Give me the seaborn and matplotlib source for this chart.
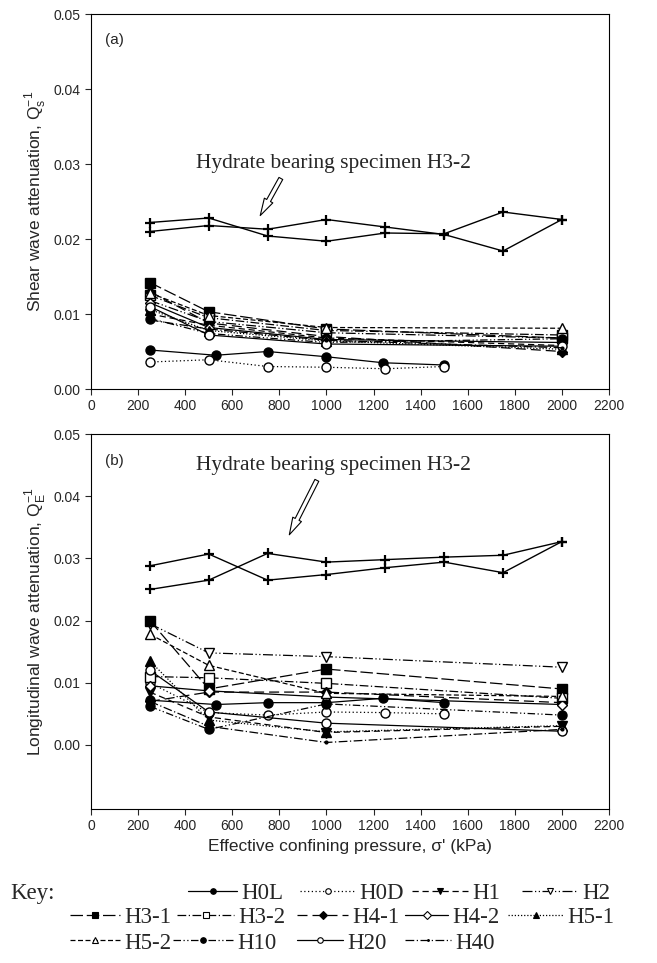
import pandas as pd
import seaborn as sns
import matplotlib.pyplot as plt
from matplotlib.lines import Line2D

# Confining pressures (kPa)
p_std = [250, 500, 1000, 2000]
p_h0l = [250, 530, 750, 1000, 1240, 1500]
p_h0d = [250, 500, 750, 1000, 1250, 1500]
p_hyd = [250, 500, 750, 1000, 1250, 1500, 1750, 2000]

# Shear wave attenuation, Qs^-1
qs_h0l = [0.0052, 0.0045, 0.0050, 0.0043, 0.0035, 0.0032]
qs_h0d = [0.0036, 0.0039, 0.0030, 0.0029, 0.0027, 0.0030]
qs_h1 = [0.0100, 0.0085, 0.0068, 0.0058]
qs_h2 = [0.0118, 0.0090, 0.0075, 0.0068]
qs_h31 = [0.0142, 0.0103, 0.0080, 0.0068]
qs_h32 = [0.0125, 0.0095, 0.0078, 0.0072]
qs_h41 = [0.0130, 0.0088, 0.0070, 0.0050]
qs_h42 = [0.0115, 0.0082, 0.0066, 0.0062]
qs_h51 = [0.0106, 0.0078, 0.0064, 0.0053]
qs_h52 = [0.0128, 0.0098, 0.0082, 0.0081]
qs_h10 = [0.0094, 0.0074, 0.0062, 0.0067]
qs_h20 = [0.0110, 0.0072, 0.0060, 0.0057]
qs_h40 = [0.0092, 0.0080, 0.0065, 0.0055]
qs_hyd_a = [0.0210, 0.0218, 0.0213, 0.0226, 0.0216, 0.0206, 0.0184, 0.0226]
qs_hyd_b = [0.0222, 0.0228, 0.0204, 0.0197, 0.0208, 0.0207, 0.0236, 0.0226]

# Longitudinal wave attenuation, QE^-1
qe_h0l = [0.0072, 0.0065, 0.0068, 0.0068, 0.0075, 0.0068]
qe_h0d = [0.0100, 0.0052, 0.0048, 0.0053, 0.0052, 0.0050]
qe_h1 = [0.0085, 0.0045, 0.0020, 0.0030]
qe_h2 = [0.0195, 0.0148, 0.0142, 0.0125]
qe_h31 = [0.0200, 0.0090, 0.0122, 0.0090]
qe_h32 = [0.0110, 0.0108, 0.0099, 0.0075]
qe_h41 = [0.0070, 0.0085, 0.0085, 0.0068]
qe_h42 = [0.0095, 0.0087, 0.0077, 0.0065]
qe_h51 = [0.0135, 0.0040, 0.0021, 0.0031]
qe_h52 = [0.0178, 0.0128, 0.0083, 0.0078]
qe_h10 = [0.0062, 0.0025, 0.0066, 0.0048]
qe_h20 = [0.0120, 0.0053, 0.0035, 0.0022]
qe_h40 = [0.0070, 0.0030, 0.0004, 0.0025]
qe_hyd_a = [0.0250, 0.0265, 0.0308, 0.0294, 0.0298, 0.0302, 0.0305, 0.0327]
qe_hyd_b = [0.0288, 0.0307, 0.0265, 0.0274, 0.0285, 0.0294, 0.0277, 0.0327]

specimens = ['H0L', 'H0D', 'H1', 'H2', 'H3-1', 'H3-2', 'H4-1', 'H4-2',
             'H5-1', 'H5-2', 'H10', 'H20', 'H40']

# marker, filled?, linestyle
estilos = {
    'H0L': ('o', True, '-'),
    'H0D': ('o', False, (0, (1, 2))),
    'H1': ('v', True, (0, (5, 3))),
    'H2': ('v', False, (0, (8, 2, 1, 2, 1, 2))),
    'H3-1': ('s', True, (0, (10, 3))),
    'H3-2': ('s', False, (0, (7, 2, 1, 2))),
    'H4-1': ('D', True, (0, (8, 4))),
    'H4-2': ('D', False, '-'),
    'H5-1': ('^', True, (0, (1, 1.5))),
    'H5-2': ('^', False, (0, (4, 2))),
    'H10': ('o', True, (0, (6, 2, 1, 2, 1, 2))),
    'H20': ('o', False, '-'),
    'H40': ('.', True, (0, (7, 2, 1, 2))),
}

dados_qs = {
    'H0L': (p_h0l, qs_h0l), 'H0D': (p_h0d, qs_h0d),
    'H1': (p_std, qs_h1), 'H2': (p_std, qs_h2), 'H3-1': (p_std, qs_h31),
    'H3-2': (p_std, qs_h32), 'H4-1': (p_std, qs_h41), 'H4-2': (p_std, qs_h42),
    'H5-1': (p_std, qs_h51), 'H5-2': (p_std, qs_h52), 'H10': (p_std, qs_h10),
    'H20': (p_std, qs_h20), 'H40': (p_std, qs_h40),
}
dados_qe = {
    'H0L': (p_h0l, qe_h0l), 'H0D': (p_h0d, qe_h0d),
    'H1': (p_std, qe_h1), 'H2': (p_std, qe_h2), 'H3-1': (p_std, qe_h31),
    'H3-2': (p_std, qe_h32), 'H4-1': (p_std, qe_h41), 'H4-2': (p_std, qe_h42),
    'H5-1': (p_std, qe_h51), 'H5-2': (p_std, qe_h52), 'H10': (p_std, qe_h10),
    'H20': (p_std, qe_h20), 'H40': (p_std, qe_h40),
}

sns.set_style('ticks')
plt.rcParams['font.family'] = ['Liberation Sans', 'DejaVu Sans']
plt.rcParams['mathtext.fontset'] = 'custom'
plt.rcParams['mathtext.rm'] = 'Liberation Sans'
plt.rcParams['xtick.direction'] = 'out'
plt.rcParams['ytick.direction'] = 'out'

fig = plt.figure(figsize=(6.57, 9.63), dpi=100)
ax1 = fig.add_axes([91 / 657, 1 - 389 / 963, 518 / 657, 375 / 963])
ax2 = fig.add_axes([91 / 657, 1 - 809 / 963, 518 / 657, 375 / 963])


def desenha(ax, dados, hyd_a, hyd_b):
    for nome in specimens:
        marc, cheio, ls = estilos[nome]
        x, y = dados[nome]
        ms = 4 if marc == '.' else (5.5 if marc == 'D' else 6.5)
        sns.lineplot(x=x, y=y, ax=ax, color='black', linestyle=ls, lw=0.9,
                     marker=marc, markersize=ms,
                     markerfacecolor='black' if cheio else 'white',
                     markeredgecolor='black', markeredgewidth=1.0)
    for serie in (hyd_a, hyd_b):
        sns.lineplot(x=p_hyd, y=serie, ax=ax, color='black', lw=1.0,
                     marker='+', markersize=6.5, markeredgewidth=1.6,
                     markeredgecolor='black')


desenha(ax1, dados_qs, qs_hyd_a, qs_hyd_b)
desenha(ax2, dados_qe, qe_hyd_a, qe_hyd_b)

for ax in (ax1, ax2):
    ax.set_xlim(0, 2200)
    ax.set_xticks(range(0, 2201, 200))
    ax.set_yticks([0.0, 0.01, 0.02, 0.03, 0.04, 0.05])
    ax.set_yticklabels(['0.00', '0.01', '0.02', '0.03', '0.04', '0.05'])
    ax.tick_params(labelsize=10, length=4, width=0.8, top=False, right=False)
    for s in ax.spines.values():
        s.set_linewidth(0.8)
        s.set_color('black')
    ax.set_xlabel('')

ax1.set_ylim(0, 0.05)
ax2.set_ylim(-0.0103, 0.05)

ax1.set_ylabel(r'Shear wave attenuation, Q$_\mathregular{s}^{\mathregular{-1}}$', fontsize=12.5)
ax2.set_ylabel(r'Longitudinal wave attenuation, Q$_\mathregular{E}^{\mathregular{-1}}$', fontsize=12.5)
ax2.set_xlabel("Effective confining pressure, σ' (kPa)", fontsize=12.5)

ax1.text(0.027, 0.92, '(a)', transform=ax1.transAxes, fontsize=11)
ax2.text(0.027, 0.917, '(b)', transform=ax2.transAxes, fontsize=11)

seta = dict(arrowstyle='simple,head_length=0.8,head_width=0.45,tail_width=0.2',
            fc='white', ec='black', lw=0.8)
ax1.annotate('Hydrate bearing specimen H3-2', xy=(713, 0.0228), xytext=(1030, 0.0301),
             ha='center', va='center', fontsize=15.5, family='Liberation Serif',
             arrowprops=dict(seta, relpos=(0.32, 0)))
ax2.annotate('Hydrate bearing specimen H3-2', xy=(837, 0.0334), xytext=(1030, 0.0450),
             ha='center', va='center', fontsize=15.5, family='Liberation Serif',
             arrowprops=dict(seta, relpos=(0.45, 0)))

# Legenda (Key): cada entrada no seu lugar
fs_key = 16.5
px_em = fs_key * 100 / 72


def alca(nome):
    marc, cheio, ls = estilos[nome]
    ms = 2.5 if marc == '.' else 4
    return Line2D([], [], color='black', linestyle=ls, lw=0.9, marker=marc,
                  markersize=ms, markerfacecolor='black' if cheio else 'white',
                  markeredgecolor='black', markeredgewidth=0.8)


# (nome, inicio da linha px, comprimento px, linha px)
entradas = [
    ('H0L', 188, 49, 893), ('H0D', 300, 55, 893), ('H1', 412, 56, 893), ('H2', 522, 56, 893),
    ('H3-1', 70, 50, 917), ('H3-2', 177, 57, 917), ('H4-1', 297, 51, 917),
    ('H4-2', 405, 43, 917), ('H5-1', 508, 55, 917),
    ('H5-2', 70, 50, 943), ('H10', 173, 60, 943), ('H20', 297, 46, 943), ('H40', 405, 46, 943),
]
for nome, x0, comp, y0 in entradas:
    fig.legend([alca(nome)], [nome], loc='center left',
               bbox_to_anchor=(x0 / 657, 1 - y0 / 963), frameon=False,
               prop={'family': 'Liberation Serif', 'size': fs_key},
               handlelength=comp / px_em, handletextpad=0.2,
               borderpad=0, borderaxespad=0)
fig.text(10 / 657, 1 - 893 / 963, 'Key:', family='Liberation Serif', fontsize=fs_key,
         va='center')

fig.savefig('out.png', dpi=100)
